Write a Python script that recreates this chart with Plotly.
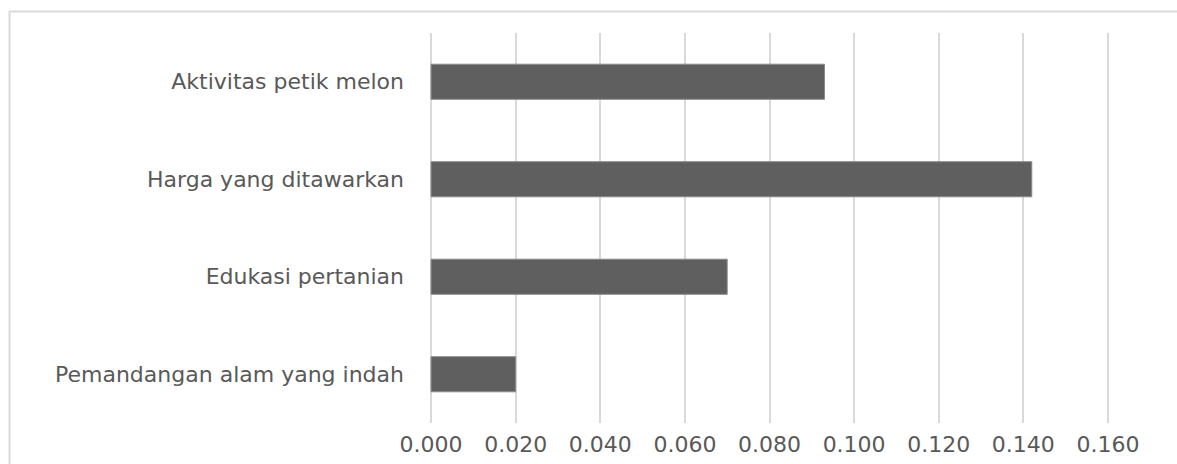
import plotly.graph_objects as go

categories = ["Aktivitas petik melon", "Harga yang ditawarkan", "Edukasi pertanian", "Pemandangan alam yang indah"]
values = [0.093, 0.142, 0.070, 0.020]
tick_vals = [0.0, 0.02, 0.04, 0.06, 0.08, 0.10, 0.12, 0.14, 0.16]
tick_text = ["0.000", "0.020", "0.040", "0.060", "0.080", "0.100", "0.120", "0.140", "0.160"]

W, H = 1177, 464
ml, mr, mt, mb = 430, 68, 33, 41
pad = 0.00025

fig = go.Figure(go.Bar(
    x=values, y=categories, orientation="h",
    marker=dict(color="#5f5f5f", line=dict(color="#8a8a8a", width=1)),
))

fig.update_layout(
    width=W, height=H,
    margin=dict(l=ml, r=mr, t=mt, b=mb, autoexpand=False),
    paper_bgcolor="white", plot_bgcolor="white",
    bargap=0.64, showlegend=False,
    font=dict(family="DejaVu Sans", color="#595959", size=22),
)
fig.update_xaxes(
    range=[-pad, 0.16 + pad], tickvals=tick_vals, ticktext=tick_text,
    showgrid=True, gridcolor="#d9d9d9", gridwidth=2,
    zeroline=True, zerolinecolor="#d9d9d9", zerolinewidth=2,
    showline=False, ticks="", ticklabelstandoff=6,
    tickfont=dict(size=22, color="#595959"),
)
fig.update_yaxes(
    categoryorder="array", categoryarray=categories[::-1],
    showgrid=False, zeroline=False, showline=False, ticks="",
    ticklabelstandoff=25, tickfont=dict(size=22, color="#595959"),
)

pw = W - ml - mr
ph = H - mt - mb
# outer chart border (light gray, partially cut by the frame)
fig.add_shape(type="line", xref="paper", yref="paper",
              x0=(9.5 - ml) / pw, x1=(9.5 - ml) / pw,
              y0=(H - mb - 11) / ph, y1=(H - mb - H - 5) / ph,
              line=dict(color="#d9d9d9", width=2))
fig.add_shape(type="line", xref="paper", yref="paper",
              x0=(9.5 - ml) / pw, x1=(W + 5 - ml) / pw,
              y0=(H - mb - 11.5) / ph, y1=(H - mb - 11.5) / ph,
              line=dict(color="#d9d9d9", width=2))

fig.write_html("out.html")
